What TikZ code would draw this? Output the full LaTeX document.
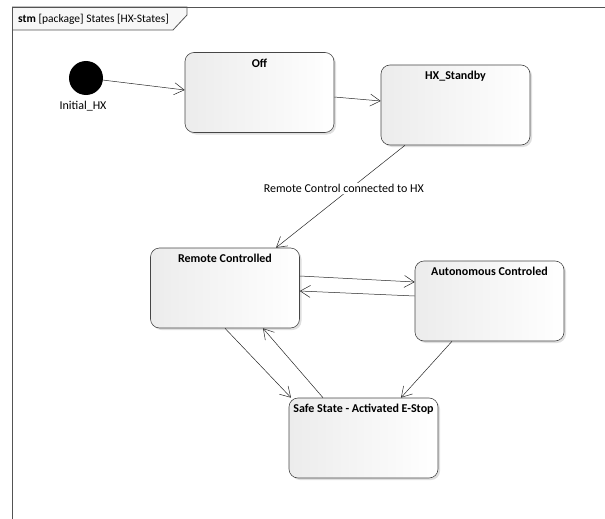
\documentclass[tikz,border=0pt]{standalone}
\usepackage{fontspec}
\setmainfont{Carlito}
\usetikzlibrary{arrows.meta,shadows,calc}
\begin{document}
\begin{tikzpicture}[x=1pt,y=-1pt,
  font=\fontsize{12}{14}\selectfont,
  state/.style={draw=gray!55!black, rounded corners=9pt, minimum width=149pt, minimum height=80pt,
    left color=gray!15, right color=white, inner sep=0pt, line width=0.6pt,
    drop shadow={shadow xshift=2pt,shadow yshift=-2pt,opacity=0.25}},
  ttl/.style={anchor=north, font=\fontsize{12}{14}\selectfont\bfseries, inner sep=0pt, yshift=-6.5pt},
  trans/.style={draw=gray!30!black, line width=0.5pt, -{Straight Barb[length=10pt,width=12pt]}},
  frameline/.style={draw=gray!65!black, line width=0.8pt}
]
\useasboundingbox (0,0) rectangle (605,519);
% frame
\draw[frameline, fill=gray!6] (12,7) -- (187,7) -- (187,15) -- (173,30) -- (12,30);
\draw[frameline] (12,519) -- (12,7) -- (605,7);
\node[anchor=west, inner sep=0pt, font=\fontsize{11.5}{13}\selectfont] (title) at (18,19) {\textbf{stm} [package] States [HX-States]};

% initial
\node[circle, fill=black, minimum size=34pt, inner sep=0pt] (init) at (86,78) {};
\node (initlbl) at (83,106) {Initial\_HX};

% states
\node[state, label={[ttl]north:Off}] (off) at (259.5,92.5) {};
\node[state, label={[ttl]north:HX\_Standby}] (hx) at (455.5,105) {};
\node[state, label={[ttl]north:Remote Controlled}] (rc) at (225,288) {};
\node[state, label={[ttl]north:Autonomous Controled}] (auto) at (489.5,301) {};
\node[state, label={[ttl]north:Safe State - Activated E-Stop}] (safe) at (363.5,438) {};

% transitions
\draw[trans] (init) -- ([yshift=2.5pt]off.west);
\draw[trans] ([yshift=-4.5pt]off.east) -- ([yshift=4pt]hx.west);
\draw[trans] ([xshift=-50.5pt]hx.south) -- node[pos=0.42, xshift=-7pt, fill=white, inner sep=1.5pt] (lbl) {Remote Control connected to HX} ([xshift=51pt]rc.north);
\draw[trans] ([yshift=12pt]rc.east) -- ([yshift=19pt]auto.west);
\draw[trans] ([yshift=5pt]auto.west) -- ([yshift=-3pt]rc.east);
\draw[trans] (rc.south) -- ([xshift=-72.5pt]safe.north);
\draw[trans] ([xshift=-40.5pt]safe.north) -- ([xshift=38pt]rc.south);
\draw[trans] ([xshift=-37.5pt]auto.south) -- ([xshift=37.5pt]safe.north);
\end{tikzpicture}
\end{document}
